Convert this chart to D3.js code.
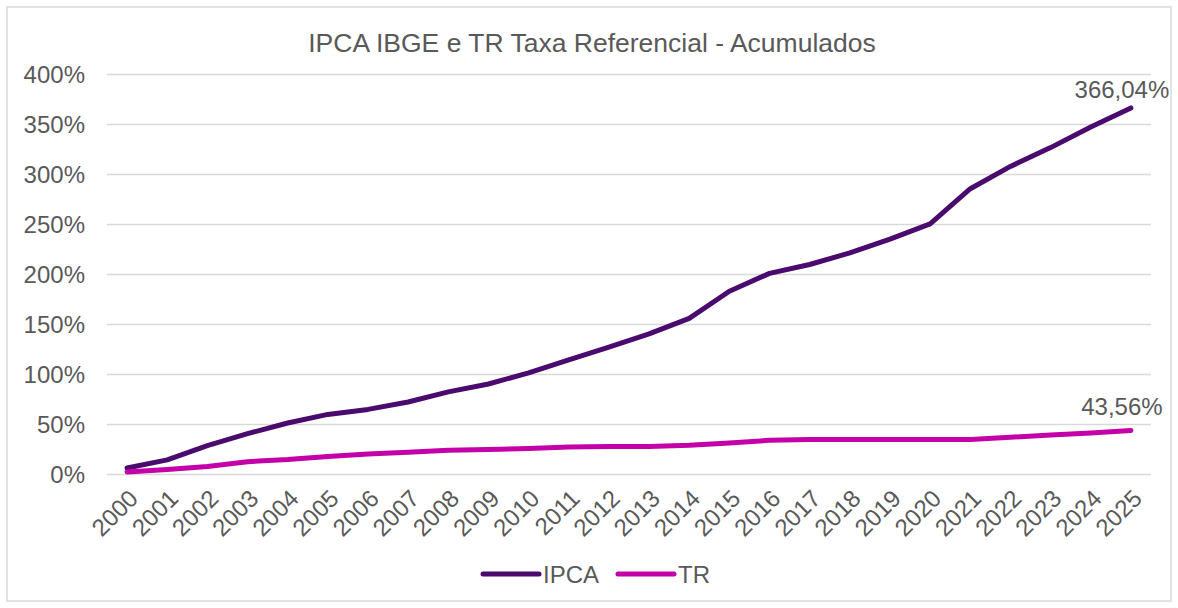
<!DOCTYPE html>
<html>
<head>
<meta charset="utf-8">
<script src="https://cdn.jsdelivr.net/npm/d3@7"></script>
<style>
    body { margin:0; background:#fff; }
    text { font-family: "Liberation Sans", Arial, sans-serif; fill:#595959; }
</style>
</head>
<body>
<div id="chartDiv"></div>
<script>
// data (cumulative %, from 2000)
var years = ["2000","2001","2002","2003","2004","2005","2006","2007","2008","2009","2010","2011","2012",
    "2013","2014","2015","2016","2017","2018","2019","2020","2021","2022","2023","2024","2025"];
var ipca = [6.0, 14.1, 28.4, 40.3, 51.0, 59.6, 64.6, 72.0, 82.1, 90.0, 101.2, 114.2, 126.8,
    140.2, 155.6, 182.8, 200.6, 209.5, 221.1, 234.9, 250.1, 285.3, 307.6, 326.4, 347.0, 366.04];
var tr = [2.1, 4.4, 7.4, 12.3, 14.4, 17.6, 20.0, 21.8, 23.8, 24.6, 25.5, 27.0, 27.4,
    27.6, 28.7, 31.0, 33.7, 34.5, 34.5, 34.5, 34.5, 34.5, 36.7, 39.1, 41.0, 43.56];
var yTicks = [0, 50, 100, 150, 200, 250, 300, 350, 400];
var seriesNames = ["IPCA", "TR"];
var seriesColors = ["#4a0a6e", "#c400a8"];
var endLabels = ["366,04%", "43,56%"];

var width = 1178, height = 608;

var svg = d3.select("#chartDiv")
    .append("svg")
    .attr("width", width)
    .attr("height", height)

svg.append("rect")
    .attr("x", 7)
    .attr("y", 7)
    .attr("width", 1164)
    .attr("height", 594)
    .style("fill", "#fff")
    .style("stroke", "#d9d9d9")
    .style("stroke-width", 1.5)

svg.append("text")
    .attr("x", 592)
    .attr("y", 52)
    .attr("text-anchor", "middle")
    .style("font-size", "26.5px")
    .text("IPCA IBGE e TR Taxa Referencial - Acumulados")

var x = d3.scalePoint()
    .domain(years)
    .range([107, 1151])
    .padding(0.5);

var y = d3.scaleLinear()
    .domain([0, 400])
    .range([474, 74]);

// gridlines + y labels
var yAxis = d3.axisLeft(y)
    .tickValues(yTicks)
    .tickSize(-(1151 - 107))
    .tickPadding(22)
    .tickFormat(function(d){ return d + "%"; });

var gy = svg.append("g")
    .attr("transform", "translate(107,0)")
    .call(yAxis);
gy.select(".domain").remove();
gy.selectAll("line").style("stroke", "#d9d9d9").style("stroke-width", 1.5);
gy.selectAll("text")
    .style("font-size", "24px")
    .style("fill", "#595959")
    .style("font-family", "Liberation Sans, Arial, sans-serif")
    .attr("dy", "0.35em");

// x labels, rotated
var xAxis = d3.axisBottom(x).tickSize(0).tickPadding(0);
var gx = svg.append("g")
    .attr("transform", "translate(0,474)")
    .call(xAxis);
gx.select(".domain").remove();
gx.selectAll("text")
    .style("font-size", "24px")
    .style("fill", "#595959")
    .style("font-family", "Liberation Sans, Arial, sans-serif")
    .attr("text-anchor", "end")
    .attr("dy", "0.35em")
    .attr("transform", "translate(6,20) rotate(-45)");

var line = d3.line()
    .x(function(d, i){ return x(years[i]); })
    .y(function(d){ return y(d); });

var allSeries = [ipca, tr];
var labelDy = [-10, -15];

allSeries.forEach(function(s, k){
    svg.append("path")
        .datum(s)
        .attr("d", line)
        .style("fill", "none")
        .style("stroke", seriesColors[k])
        .style("stroke-width", 5)
        .style("stroke-linecap", "round")
        .style("stroke-linejoin", "round")

    var last = s.length - 1;
    svg.append("text")
        .attr("x", x(years[last]) - 9)
        .attr("y", y(s[last]) + labelDy[k])
        .attr("text-anchor", "middle")
        .style("font-size", "24px")
        .text(endLabels[k])
})

// legend
var legendX = [483, 618];
seriesNames.forEach(function(name, k){
    svg.append("line")
        .attr("x1", legendX[k])
        .attr("x2", legendX[k] + 56)
        .attr("y1", 574)
        .attr("y2", 574)
        .style("stroke", seriesColors[k])
        .style("stroke-width", 5)
        .style("stroke-linecap", "round")
    svg.append("text")
        .attr("x", legendX[k] + 60)
        .attr("y", 583)
        .style("font-size", "24px")
        .text(name)
})
</script>
</body>
</html>
